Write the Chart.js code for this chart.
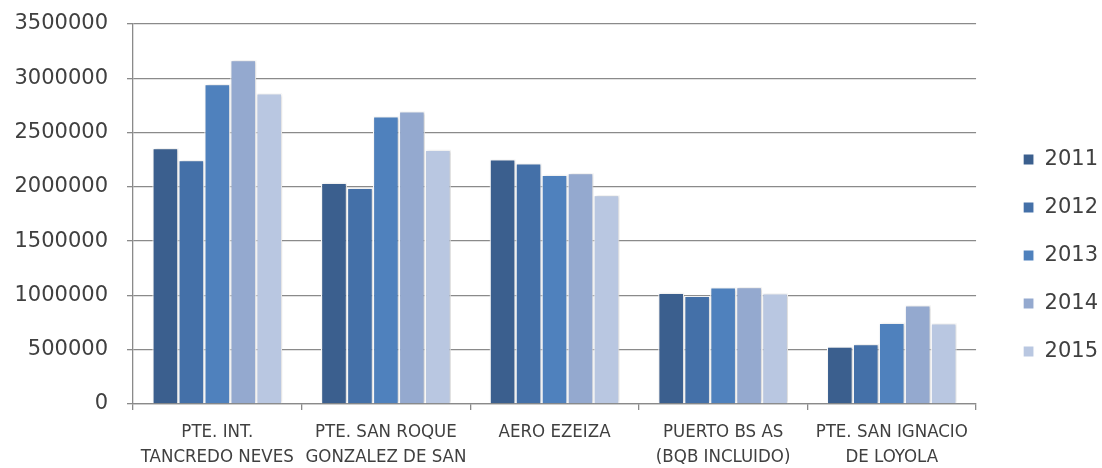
<!DOCTYPE html>
<html>
<head>
<meta charset="utf-8">
<script src="https://cdn.jsdelivr.net/npm/chart.js@4.4.0/dist/chart.umd.min.js"></script>
<style>
  html, body { margin: 0; padding: 0; background: #ffffff; }
  #wrap { width: 1102px; height: 468px; position: relative; }
</style>
</head>
<body>
<div id="wrap"><canvas id="c"></canvas></div>
<script>
const categories = [
  ['PTE. INT.', 'TANCREDO NEVES'],
  ['PTE. SAN ROQUE', 'GONZALEZ DE SAN'],
  ['AERO EZEIZA'],
  ['PUERTO BS AS', '(BQB INCLUIDO)'],
  ['PTE. SAN IGNACIO', 'DE LOYOLA']
];
const seriesNames = ['2011', '2012', '2013', '2014', '2015'];
const values2011 = [2357000, 2038000, 2253000, 1025000, 528000];
const values2012 = [2247000, 1992000, 2216000, 997000, 552000];
const values2013 = [2947000, 2649000, 2112000, 1074000, 749000];
const values2014 = [3168000, 2695000, 2127000, 1077000, 909000];
const values2015 = [2861000, 2342000, 1925000, 1019000, 743000];
const seriesColors = ['#3B5F8E', '#4470A8', '#4F81BD', '#94A9CF', '#B9C7E1'];
const yMin = 0, yMax = 3500000, yStep = 500000;

const allValues = [values2011, values2012, values2013, values2014, values2015];

const shadowPlugin = {
  id: 'barShadow',
  beforeDatasetsDraw(chart) {
    const ctx = chart.ctx;
    ctx.save();
    ctx.shadowColor = 'rgba(0,0,0,0.22)';
    ctx.shadowBlur = 3;
    ctx.shadowOffsetX = 1;
    ctx.shadowOffsetY = 0;
  },
  afterDatasetsDraw(chart) {
    chart.ctx.restore();
  }
};

const textColor = '#404040';
const gridColor = '#8a8a8a';

new Chart(document.getElementById('c'), {
  type: 'bar',
  data: {
    labels: categories,
    datasets: seriesNames.map((name, i) => ({
      label: name,
      data: allValues[i],
      backgroundColor: seriesColors[i],
      borderColor: '#ffffff',
      borderWidth: 1.2,
      yAxisID: 'y'
    }))
  },
  options: {
    responsive: true,
    maintainAspectRatio: false,
    animation: false,
    devicePixelRatio: 1,
    layout: { padding: { top: 24, left: 0, right: -6, bottom: 0 } },
    datasets: { bar: { categoryPercentage: 0.77, barPercentage: 1.0 } },
    plugins: {
      tooltip: { enabled: false },
      legend: {
        position: 'right',
        align: 'center',
        title: { display: true, text: ' ', font: { size: 10 }, padding: { top: 0, bottom: 7 } },
        labels: {
          boxWidth: 11,
          boxHeight: 11,
          padding: 27,
          color: textColor,
          font: { family: 'DejaVu Sans', size: 21 }
        }
      }
    },
    scales: {
      x: {
        grid: { display: true, offset: true, drawOnChartArea: false, drawTicks: true, tickLength: 6, color: gridColor, lineWidth: 1.3 },
        border: { display: true, color: gridColor, width: 1.3 },
        ticks: {
          color: textColor,
          font: { family: '"DejaVu Sans Condensed", "DejaVu Sans"', size: 18.5, lineHeight: 1.35 },
          padding: 10,
          maxRotation: 0,
          minRotation: 0,
          autoSkip: false
        },
        afterFit(scale) { scale.height = 64; }
      },
      y: {
        min: yMin,
        max: yMax,
        grid: { color: gridColor, lineWidth: 1.3, tickLength: 6 },
        border: { display: true, color: gridColor, width: 1.3 },
        ticks: {
          stepSize: yStep,
          color: textColor,
          padding: 19,
          font: { family: 'DejaVu Sans', size: 21 },
          callback: (v) => String(v)
        },
        afterFit(scale) { scale.width = 133; scale.paddingTop = 0; scale.paddingBottom = 0; }
      },
      gap: {
        position: 'right',
        display: true,
        grid: { display: false },
        border: { display: false },
        ticks: { display: false },
        afterFit(scale) { scale.width = 20; scale.paddingTop = 0; scale.paddingBottom = 0; }
      }
    }
  },
  plugins: [shadowPlugin]
});
</script>
</body>
</html>
